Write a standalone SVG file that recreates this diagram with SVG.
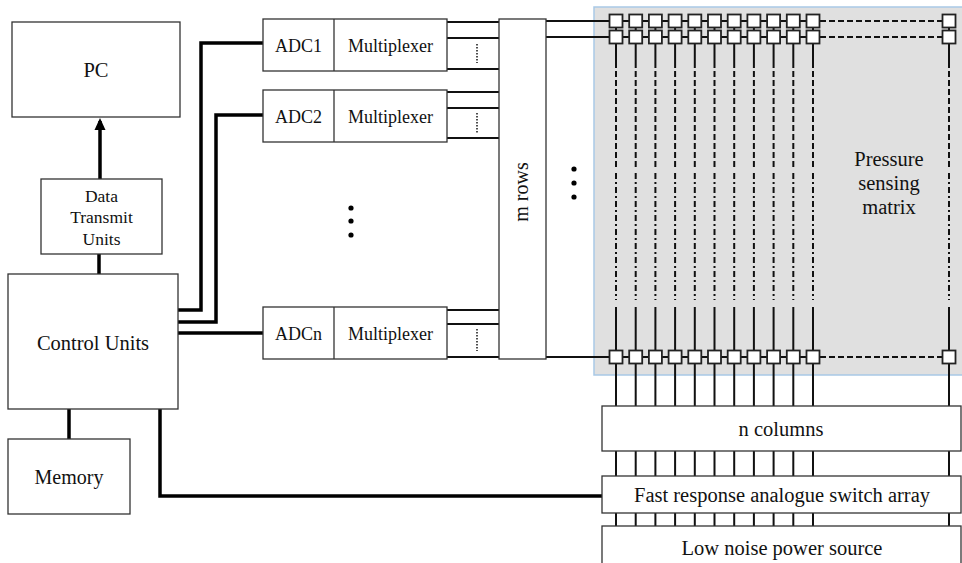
<svg xmlns="http://www.w3.org/2000/svg" width="962" height="563" viewBox="0 0 962 563">
<style>
.box{fill:#fff;stroke:#333;stroke-width:1.3}
.t{font-family:"Liberation Serif","Times New Roman",serif;fill:#111;text-anchor:middle}
.thick{stroke:#000;stroke-width:3.5;fill:none}
.wire{stroke:#111;stroke-width:2;fill:none}
.dotv{stroke:#222;stroke-width:1.6;stroke-dasharray:1.5 1.5;fill:none}
.sq{fill:#fff;stroke:#222;stroke-width:1.8}
.col{stroke:#111;stroke-width:2;fill:none}
.dash{stroke:#111;stroke-width:2;stroke-dasharray:6 3;fill:none}
.dashdot{stroke:#111;stroke-width:2;stroke-dasharray:6 3 2 3;fill:none}
.rdash{stroke:#111;stroke-width:2;stroke-dasharray:6 3;fill:none}
</style>
<defs>
<marker id="arr" markerWidth="12" markerHeight="12" refX="9" refY="6" orient="auto" markerUnits="userSpaceOnUse" viewBox="0 0 12 12">
<path d="M0,0.5 L12,6 L0,11.5 Z" fill="#000"/>
</marker>
</defs>
<rect width="962" height="563" fill="#fff"/>

<g id="matrix">
<rect x="594" y="7" width="372" height="368" fill="#e0e0e0" stroke="#a9c9e6" stroke-width="1.5"/>
<text class="t" x="889" y="166" font-size="20.5">Pressure</text>
<text class="t" x="889" y="190" font-size="20.5">sensing</text>
<text class="t" x="889" y="214" font-size="20.5">matrix</text>
</g>

<g id="connectors">
<path class="thick" d="M100,179 V121" marker-end="url(#arr)"/>
<path class="thick" d="M99,254 V274"/>
<path class="thick" d="M69,409 V439"/>
<path class="thick" d="M160,409 V496 H602"/>
<path class="thick" d="M178,310 H201 V43 H263"/>
<path class="thick" d="M178,322 H216 V115 H263"/>
<path class="thick" d="M178,333 H263"/>
<path class="wire" d="M447,22 H499 M447,38 H499 M447,69 H499"/>
<path class="dotv" d="M477,44 V63"/>
<path class="wire" d="M447,92 H499 M447,108 H499 M447,138 H499"/>
<path class="dotv" d="M477,113 V133"/>
<path class="wire" d="M447,310 H499 M447,324 H499 M447,357 H499"/>
<path class="dotv" d="M477,329 V351"/>
<path class="wire" d="M546,21 H813 M546,37 H813 M546,357 H813"/>
<path class="rdash" d="M820,21 H942 M820,37 H942 M820,357 H942"/>
<g id="columns">
<path class="col" d="M616,21 V68 M635.7,21 V68 M655.4,21 V68 M675.1,21 V68 M694.8,21 V68 M714.5,21 V68 M734.2,21 V68 M753.9,21 V68 M773.6,21 V68 M793.3,21 V68 M813,21 V68 M949,21 V68"/>
<path class="dash" d="M616,71 V170 M635.7,71 V170 M655.4,71 V170 M675.1,71 V170 M694.8,71 V170 M714.5,71 V170 M734.2,71 V170 M753.9,71 V170 M773.6,71 V170 M793.3,71 V170 M813,71 V170 M949,71 V170"/>
<path class="dashdot" d="M616,173 V300 M635.7,173 V300 M655.4,173 V300 M675.1,173 V300 M694.8,173 V300 M714.5,173 V300 M734.2,173 V300 M753.9,173 V300 M773.6,173 V300 M793.3,173 V300 M813,173 V300 M949,173 V300"/>
<path class="col" d="M616,307 V526 M635.7,307 V526 M655.4,307 V526 M675.1,307 V526 M694.8,307 V526 M714.5,307 V526 M734.2,307 V526 M753.9,307 V526 M773.6,307 V526 M793.3,307 V526 M813,307 V526 M949,307 V526"/>
</g>
</g>

<g id="sensors">
<g id="row1">
<rect class="sq" x="609.5" y="14.5" width="13" height="13"/><rect class="sq" x="629.2" y="14.5" width="13" height="13"/><rect class="sq" x="648.9" y="14.5" width="13" height="13"/><rect class="sq" x="668.6" y="14.5" width="13" height="13"/><rect class="sq" x="688.3" y="14.5" width="13" height="13"/><rect class="sq" x="708" y="14.5" width="13" height="13"/><rect class="sq" x="727.7" y="14.5" width="13" height="13"/><rect class="sq" x="747.4" y="14.5" width="13" height="13"/><rect class="sq" x="767.1" y="14.5" width="13" height="13"/><rect class="sq" x="786.8" y="14.5" width="13" height="13"/><rect class="sq" x="806.5" y="14.5" width="13" height="13"/><rect class="sq" x="942.5" y="14.5" width="13" height="13"/>
</g>
<g id="row2">
<rect class="sq" x="609.5" y="30.5" width="13" height="13"/><rect class="sq" x="629.2" y="30.5" width="13" height="13"/><rect class="sq" x="648.9" y="30.5" width="13" height="13"/><rect class="sq" x="668.6" y="30.5" width="13" height="13"/><rect class="sq" x="688.3" y="30.5" width="13" height="13"/><rect class="sq" x="708" y="30.5" width="13" height="13"/><rect class="sq" x="727.7" y="30.5" width="13" height="13"/><rect class="sq" x="747.4" y="30.5" width="13" height="13"/><rect class="sq" x="767.1" y="30.5" width="13" height="13"/><rect class="sq" x="786.8" y="30.5" width="13" height="13"/><rect class="sq" x="806.5" y="30.5" width="13" height="13"/><rect class="sq" x="942.5" y="30.5" width="13" height="13"/>
</g>
<g id="rowm">
<rect class="sq" x="609.5" y="350.5" width="13" height="13"/><rect class="sq" x="629.2" y="350.5" width="13" height="13"/><rect class="sq" x="648.9" y="350.5" width="13" height="13"/><rect class="sq" x="668.6" y="350.5" width="13" height="13"/><rect class="sq" x="688.3" y="350.5" width="13" height="13"/><rect class="sq" x="708" y="350.5" width="13" height="13"/><rect class="sq" x="727.7" y="350.5" width="13" height="13"/><rect class="sq" x="747.4" y="350.5" width="13" height="13"/><rect class="sq" x="767.1" y="350.5" width="13" height="13"/><rect class="sq" x="786.8" y="350.5" width="13" height="13"/><rect class="sq" x="806.5" y="350.5" width="13" height="13"/><rect class="sq" x="942.5" y="350.5" width="13" height="13"/>
</g>
</g>

<g id="pc">
<rect class="box" x="12" y="22" width="168" height="95"/>
<text class="t" x="96" y="77" font-size="20.5">PC</text>
</g>
<g id="dtu">
<rect class="box" x="41" y="179" width="121" height="75"/>
<text class="t" x="101.5" y="202" font-size="17.5">Data</text>
<text class="t" x="101.5" y="223" font-size="17.5">Transmit</text>
<text class="t" x="101.5" y="245" font-size="17.5">Units</text>
</g>
<g id="control">
<rect class="box" x="8" y="274" width="170" height="135"/>
<text class="t" x="93" y="350" font-size="20.5">Control Units</text>
</g>
<g id="memory">
<rect class="box" x="8" y="439" width="122" height="75"/>
<text class="t" x="69" y="484" font-size="20">Memory</text>
</g>

<g id="adc1">
<rect class="box" x="263" y="19" width="184" height="52"/>
<line x1="334" y1="19" x2="334" y2="71" stroke="#333" stroke-width="1.3"/>
<text class="t" x="298.5" y="52" font-size="18">ADC1</text>
<text class="t" x="390.5" y="52" font-size="18">Multiplexer</text>
</g>
<g id="adc2">
<rect class="box" x="263" y="90" width="184" height="52"/>
<line x1="334" y1="90" x2="334" y2="142" stroke="#333" stroke-width="1.3"/>
<text class="t" x="298.5" y="123" font-size="18">ADC2</text>
<text class="t" x="390.5" y="123" font-size="18">Multiplexer</text>
</g>
<g id="adcn">
<rect class="box" x="263" y="307" width="184" height="52"/>
<line x1="334" y1="307" x2="334" y2="359" stroke="#333" stroke-width="1.3"/>
<text class="t" x="298.5" y="340" font-size="18">ADCn</text>
<text class="t" x="390.5" y="340" font-size="18">Multiplexer</text>
</g>
<g id="ellipsis-adc">
<circle cx="351" cy="208" r="2.6" fill="#000"/>
<circle cx="351" cy="221" r="2.6" fill="#000"/>
<circle cx="351" cy="235" r="2.6" fill="#000"/>
</g>

<g id="mrows">
<rect class="box" x="499" y="19" width="47" height="340"/>
<text class="t" font-size="20" transform="translate(522,192) rotate(-90)" x="0" y="6">m rows</text>
</g>
<g id="ellipsis-rows">
<circle cx="574" cy="169" r="2.6" fill="#000"/>
<circle cx="574" cy="183" r="2.6" fill="#000"/>
<circle cx="574" cy="197" r="2.6" fill="#000"/>
</g>

<g id="ncolumns">
<rect class="box" x="602" y="406" width="359" height="45"/>
<text class="t" x="781" y="436" font-size="20.5">n columns</text>
</g>
<g id="switch">
<rect class="box" x="602" y="476" width="359" height="37"/>
<text class="t" x="782" y="502" font-size="20.5">Fast response analogue switch array</text>
</g>
<g id="power">
<rect class="box" x="602" y="526" width="359" height="45"/>
<text class="t" x="782" y="555" font-size="20.5">Low noise power source</text>
</g>
</svg>
